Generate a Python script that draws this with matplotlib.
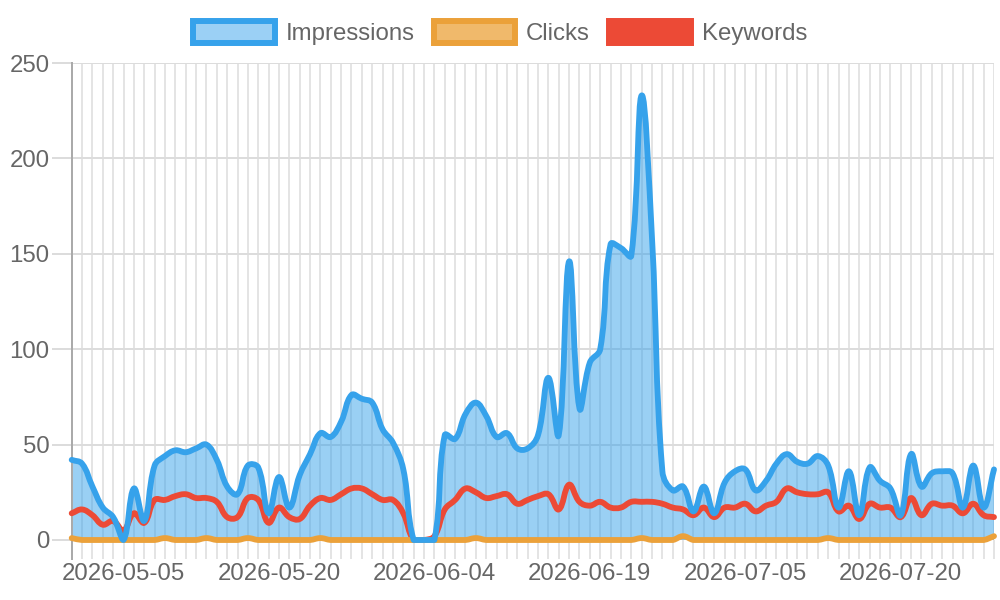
import numpy as np
import pandas as pd
import matplotlib
matplotlib.use('Agg')
import matplotlib.pyplot as plt
from matplotlib.path import Path
from matplotlib.patches import PathPatch, Patch

plt.rcParams['font.family'] = ['Liberation Sans', 'DejaVu Sans']

# daily labels, one day (06-27) is absent from the source data
days = pd.date_range('2026-04-30', '2026-07-29')
days = days[days != pd.Timestamp('2026-06-27')]
dates = [d.strftime('%Y-%m-%d') for d in days]
shown = [5, 20, 35, 50, 65, 80]

impressions = [42, 40, 28, 17, 12, 0, 27, 10, 39, 44,
               47, 46, 48, 50, 42, 28, 24, 39, 38, 14,
               33, 17, 34, 45, 56, 54, 62, 76, 74, 72,
               58, 51, 37, 0, 0, 0, 55, 53, 66, 72,
               65, 54, 56, 48, 48, 55, 85, 55, 146, 69,
               93, 100, 155, 153, 149, 233, 158, 36, 26, 28,
               15, 28, 14, 30, 36, 37, 26, 31, 40, 45,
               41, 40, 44, 39, 17, 36, 13, 38, 31, 27,
               13, 45, 28, 35, 36, 35, 17, 39, 17, 37]
clicks = [1, 0, 0, 0, 0, 0, 0, 0, 0, 1,
          0, 0, 0, 1, 0, 0, 0, 1, 0, 0,
          0, 0, 0, 0, 1, 0, 0, 0, 0, 0,
          0, 0, 0, 0, 0, 0, 0, 0, 0, 1,
          0, 0, 0, 0, 0, 0, 0, 0, 0, 0,
          0, 0, 0, 0, 0, 1, 0, 0, 0, 2,
          0, 0, 0, 0, 0, 0, 0, 0, 0, 0,
          0, 0, 0, 1, 0, 0, 0, 0, 0, 0,
          0, 0, 0, 0, 0, 0, 0, 0, 0, 2]
keywords = [14, 16, 13, 8, 10, 5, 14, 9, 21, 21,
            23, 24, 22, 22, 20, 12, 12, 22, 21, 9,
            17, 12, 11, 18, 22, 21, 24, 27, 27, 24,
            21, 21, 14, 0, 0, 2, 16, 21, 27, 25,
            22, 23, 24, 19, 21, 23, 24, 16, 29, 20,
            18, 20, 17, 17, 20, 20, 20, 19, 17, 16,
            13, 17, 12, 17, 17, 19, 15, 18, 20, 27,
            25, 24, 24, 25, 15, 18, 11, 19, 17, 17,
            12, 22, 13, 19, 18, 18, 14, 19, 13, 12]

grid_c = '#e4e4e4'
text_c = '#666666'
fs = 17.3


def smooth(ax, xs, ys, t=0.4):
    # bezier spline like chart.js (tension 0.4, control points kept inside the area)
    pts = ax.transData.transform(np.column_stack([xs, ys]).astype(float))
    n = len(pts)
    cp_a = pts.copy()
    cp_b = pts.copy()
    for i in range(n):
        prev = pts[max(i - 1, 0)]
        cur = pts[i]
        nxt = pts[min(i + 1, n - 1)]
        d01 = np.hypot(*(cur - prev))
        d12 = np.hypot(*(nxt - cur))
        tot = d01 + d12
        s01 = d01 / tot if tot else 0
        s12 = d12 / tot if tot else 0
        cp_a[i] = cur - t * s01 * (nxt - prev)
        cp_b[i] = cur + t * s12 * (nxt - prev)
    bb = ax.bbox
    for arr in (cp_a, cp_b):
        arr[:, 0] = np.clip(arr[:, 0], bb.x0, bb.x1)
        arr[:, 1] = np.clip(arr[:, 1], bb.y0, bb.y1)
    verts = [pts[0]]
    codes = [Path.MOVETO]
    for i in range(n - 1):
        verts += [cp_b[i], cp_a[i + 1], pts[i + 1]]
        codes += [Path.CURVE4] * 3
    verts = ax.transData.inverted().transform(np.array(verts))
    return verts, codes


fig = plt.figure(figsize=(10, 6), dpi=100)
ax = fig.add_axes([0.0717, 0.1, 0.9223, 0.795])
x = np.arange(len(dates))
ax.set_xlim(0, len(dates) - 1)
ax.set_ylim(0, 250)

# fill under impressions
v, c = smooth(ax, x, impressions)
fill_v = np.vstack([v, [[x[-1], 0], [x[0], 0], [x[0], 0]]])
fill_c = c + [Path.LINETO, Path.LINETO, Path.CLOSEPOLY]
ax.add_patch(PathPatch(Path(fill_v, fill_c), facecolor='#36a2eb', alpha=0.5,
                       edgecolor='none', zorder=1))

series = [(keywords, '#ec4a36', 3), (clicks, '#eba13a', 4), (impressions, '#36a2eb', 5)]
for ys, col, z in series:
    v, c = smooth(ax, x, ys)
    ax.add_patch(PathPatch(Path(v, c), fill=False, edgecolor=col, lw=4.2,
                           joinstyle='round', capstyle='round', zorder=z, clip_on=False))

ax.set_xticks(x)
ax.set_xticklabels([d if i in shown else '' for i, d in enumerate(dates)])
ax.set_yticks([0, 50, 100, 150, 200, 250])
ax.grid(True, axis='x', color=grid_c, lw=1.44)
ax.grid(True, axis='y', color='#dcdcdc', lw=1.44)
ax.set_axisbelow(True)
ax.tick_params(axis='x', length=13.7, width=1.44, color=grid_c, pad=3,
               labelsize=fs, labelcolor=text_c)
ax.tick_params(axis='y', length=14.4, width=1.44, color='#dcdcdc', pad=1.5,
               labelsize=fs, labelcolor=text_c)
for s in ['top', 'right', 'bottom']:
    ax.spines[s].set_visible(False)
ax.spines['left'].set_color('#aaaaaa')
ax.spines['left'].set_linewidth(1.44)
ax.spines['left'].set_bounds(-10, 250)

handles = [Patch(facecolor='#9bd0f5', edgecolor='#36a2eb', lw=4.3),
           Patch(facecolor='#f0b96b', edgecolor='#eba13a', lw=4.3),
           Patch(facecolor='#ec4a36', edgecolor='#ec4a36', lw=4.3)]
fig.legend(handles, ['Impressions', 'Clicks', 'Keywords'], loc='center',
           bbox_to_anchor=(0.5, 0.945), ncol=3, frameon=False, fontsize=fs,
           handlelength=3.4, handleheight=1.0, handletextpad=0.45,
           columnspacing=0.8, labelcolor=text_c, borderpad=0)

fig.savefig('out.png', dpi=100)
